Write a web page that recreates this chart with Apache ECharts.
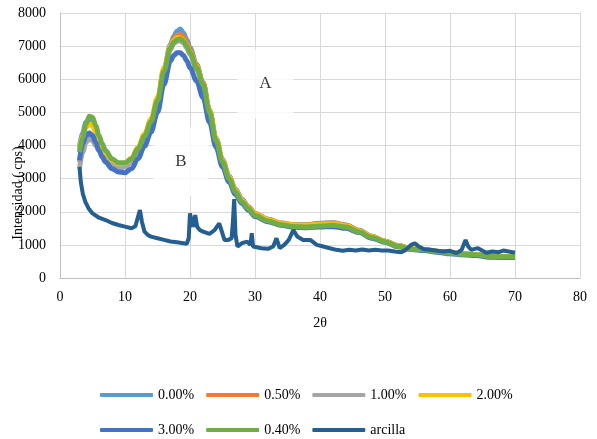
<!DOCTYPE html>
<html>
<head>
<meta charset="utf-8">
<title>Difractograma</title>
<script src="https://cdn.jsdelivr.net/npm/echarts@6/dist/echarts.min.js"></script>
<style>
  html, body { margin:0; padding:0; background:#fff; }
  #myChart { width:597px; height:439px; }
</style>
</head>
<body>
<div id="myChart"></div>
<script>
// eje X (2θ) compartido por las curvas de polimero
var twoTheta = [
  3, 3.5, 4, 4.5, 5, 5.5, 6, 6.5, 7, 8,
  9, 10, 11, 12, 13, 14, 15, 16, 17, 17.5,
  18, 18.5, 19, 19.5, 20, 21, 22, 23, 24, 25,
  26, 27, 28, 29, 30, 32, 34, 36, 38, 40,
  42, 44, 46, 48, 50, 52, 54, 56, 58, 60,
  62, 64, 66, 68, 70
];
var s000 = [
  3950, 4400, 4700, 4780, 4700, 4480, 4200, 3950, 3780, 3550,
  3420, 3420, 3550, 3880, 4250, 4700, 5350, 6300, 7050, 7300,
  7450, 7520, 7400, 7200, 6950, 6450, 5900, 5080, 4220, 3580,
  3080, 2680, 2380, 2150, 1950, 1770, 1660, 1610, 1610, 1650,
  1670, 1600, 1440, 1260, 1120, 980, 900, 860, 810, 760,
  730, 700, 660, 650, 650
];
var s050 = [
  3500, 3950, 4250, 4350, 4300, 4150, 3950, 3800, 3650, 3450,
  3350, 3380, 3520, 3850, 4230, 4680, 5330, 6250, 7000, 7220,
  7330, 7350, 7280, 7100, 6880, 6420, 5900, 5050, 4200, 3550,
  3050, 2650, 2350, 2130, 1940, 1770, 1660, 1600, 1600, 1640,
  1660, 1590, 1430, 1250, 1110, 970, 890, 860, 810, 760,
  730, 700, 660, 650, 650
];
var s100 = [
  3300, 3800, 4100, 4200, 4150, 4000, 3850, 3700, 3580, 3400,
  3320, 3350, 3500, 3830, 4200, 4650, 5300, 6200, 6900, 7080,
  7150, 7160, 7100, 6950, 6750, 6300, 5820, 5000, 4150, 3500,
  3000, 2600, 2320, 2100, 1910, 1740, 1630, 1570, 1570, 1600,
  1620, 1560, 1410, 1240, 1100, 960, 880, 850, 800, 760,
  720, 700, 650, 640, 640
];
var s200 = [
  3850, 4300, 4550, 4650, 4600, 4400, 4150, 3950, 3780, 3560,
  3450, 3460, 3620, 3950, 4350, 4800, 5450, 6350, 7000, 7170,
  7250, 7250, 7180, 7030, 6820, 6380, 5870, 5050, 4200, 3550,
  3050, 2650, 2350, 2120, 1930, 1760, 1650, 1600, 1590, 1620,
  1640, 1580, 1420, 1250, 1110, 970, 890, 860, 810, 760,
  730, 700, 660, 650, 650
];
var s300 = [
  3550, 4050, 4300, 4380, 4300, 4100, 3850, 3650, 3500, 3300,
  3200, 3180, 3300, 3600, 3980, 4400, 5000, 5850, 6550, 6720,
  6800, 6800, 6720, 6560, 6350, 5950, 5450, 4700, 3950, 3350,
  2900, 2520, 2250, 2050, 1860, 1700, 1590, 1530, 1520, 1540,
  1550, 1500, 1370, 1200, 1080, 940, 860, 830, 780, 730,
  700, 680, 630, 620, 620
];
var s040 = [
  3800, 4250, 4650, 4880, 4850, 4600, 4300, 4050, 3850, 3600,
  3480, 3480, 3600, 3900, 4280, 4720, 5350, 6250, 6950, 7120,
  7200, 7220, 7150, 7000, 6800, 6350, 5850, 5000, 4150, 3500,
  3000, 2600, 2300, 2090, 1890, 1720, 1610, 1550, 1540, 1570,
  1590, 1540, 1390, 1220, 1090, 950, 870, 850, 800, 750,
  720, 700, 650, 640, 640
];
// arcilla: [2θ, cps]
var arcilla = [
  [3,3350],[3.2,2900],[3.5,2550],[3.9,2300],[4.4,2100],[5,1950],[6,1820],[7,1750],[8,1660],[9,1600],
  [10,1550],[11,1500],[11.6,1560],[12,1850],[12.3,2050],[12.6,1700],[13,1400],[13.5,1300],[14,1250],[15,1200],
  [16,1150],[17,1100],[18,1080],[19,1050],[19.5,1030],[19.8,1200],[20,1950],[20.3,1650],[20.5,1550],[20.8,1900],
  [21.1,1550],[21.5,1450],[22,1400],[23,1330],[23.8,1450],[24.5,1650],[24.9,1400],[25.3,1150],[25.9,1150],[26.4,1200],
  [26.6,1700],[26.8,2380],[27,1300],[27.3,950],[28,1050],[28.8,1100],[29.3,1000],[29.5,1350],[29.7,950],[30,900],
  [31,900],[32,880],[32.8,950],[33.3,1200],[33.8,900],[34.5,1000],[35.2,1150],[35.9,1450],[36.5,1250],[37.4,1150],
  [38.5,1150],[39.5,1000],[40.5,950],[41.5,900],[42.5,850],[43.5,820],[44.5,850],[45.5,830],[46.5,860],[47.5,830],
  [48.5,850],[49.5,830],[50.5,830],[51.5,800],[52.5,780],[53.2,850],[54,1000],[54.6,1050],[55.2,950],[56,870],
  [57,850],[58,820],[59,800],[60,820],[61,750],[61.8,850],[62.4,1150],[62.8,950],[63.3,850],[63.8,880],
  [64.3,900],[65,820],[65.6,760],[66.5,800],[67.5,780],[68.2,830],[69,800],[70,760]
];
var names = ["0.00%", "0.50%", "1.00%", "2.00%", "3.00%", "0.40%", "arcilla"];
var colors = ["#5B9BD5", "#ED7D31", "#A5A5A5", "#FFC000", "#4472C4", "#70AD47", "#255E91"];
// etiquetas A y B [2θ, cps, texto]
var notes = [[31.6, 5860, "A"], [18.6, 3520, "B"]];

var font = "'Liberation Serif', 'Times New Roman', serif";

function zip(xs, ys) {
  var out = [];
  for (var i = 0; i < xs.length; i++) out.push([xs[i], ys[i]]);
  return out;
}

var curves = [s000, s050, s100, s200, s300, s040];
var series = [];
// cajas blancas de las etiquetas (debajo de las curvas)
series.push({
  type: "scatter",
  symbolSize: 0,
  silent: true,
  z: 1,
  data: notes.map(function (n) { return [n[0], n[1], n[2]]; }),
  label: {
    show: true,
    position: "inside",
    formatter: function (p) { return p.value[2]; },
    fontFamily: font,
    fontSize: 17,
    color: "#000",
    backgroundColor: "#fff",
    padding: [16, 22, 36, 22]
  }
});
for (var i = 0; i < curves.length; i++) {
  series.push({
    name: names[i],
    type: "line",
    data: zip(twoTheta, curves[i]),
    showSymbol: false,
    smooth: 0.35,
    smoothMonotone: "x",
    lineStyle: { width: 5, color: colors[i] },
    itemStyle: { color: colors[i] },
    z: 3
  });
}
series.push({
  name: "arcilla",
  type: "line",
  data: arcilla,
  showSymbol: false,
  lineStyle: { width: 4, color: colors[6] },
  itemStyle: { color: colors[6] },
  z: 3
});

var legendBase = {
  left: 95,
  icon: "roundRect",
  itemWidth: 53,
  itemHeight: 4,
  itemGap: 12,
  textStyle: { fontFamily: font, fontSize: 14, color: "#000" },
  selectedMode: false
};

var chart = echarts.init(document.getElementById("myChart"));
chart.setOption({
  animation: false,
  backgroundColor: "#fff",
  color: colors,
  grid: { left: 60, right: 17, top: 13, bottom: 161 },
  legend: [
    Object.assign({}, legendBase, { top: 383, data: names.slice(0, 4) }),
    Object.assign({}, legendBase, { top: 418, data: names.slice(4) })
  ],
  xAxis: {
    type: "value",
    min: 0,
    max: 80,
    interval: 10,
    name: "2θ",
    nameLocation: "middle",
    nameGap: 38,
    nameTextStyle: { fontFamily: font, fontSize: 14, color: "#000" },
    axisLine: { lineStyle: { color: "#bfbfbf" } },
    axisTick: { show: false },
    axisLabel: { fontFamily: font, fontSize: 14, color: "#000", margin: 12 },
    splitLine: { show: true, lineStyle: { color: "#d9d9d9" } }
  },
  yAxis: {
    type: "value",
    min: 0,
    max: 8000,
    interval: 1000,
    axisLine: { show: true, lineStyle: { color: "#bfbfbf" } },
    axisTick: { show: false },
    axisLabel: {
      fontFamily: font, fontSize: 14, color: "#000", margin: 14,
      formatter: function (v) { return String(v); }
    },
    splitLine: { lineStyle: { color: "#d9d9d9" } }
  },
  graphic: [{
    type: "text",
    x: 18,
    y: 193,
    rotation: Math.PI / 2,
    style: {
      text: "Intensidad ( cps)",
      font: "14px " + font,
      fill: "#000",
      align: "center",
      verticalAlign: "middle"
    }
  }],
  series: series
});
</script>
</body>
</html>
